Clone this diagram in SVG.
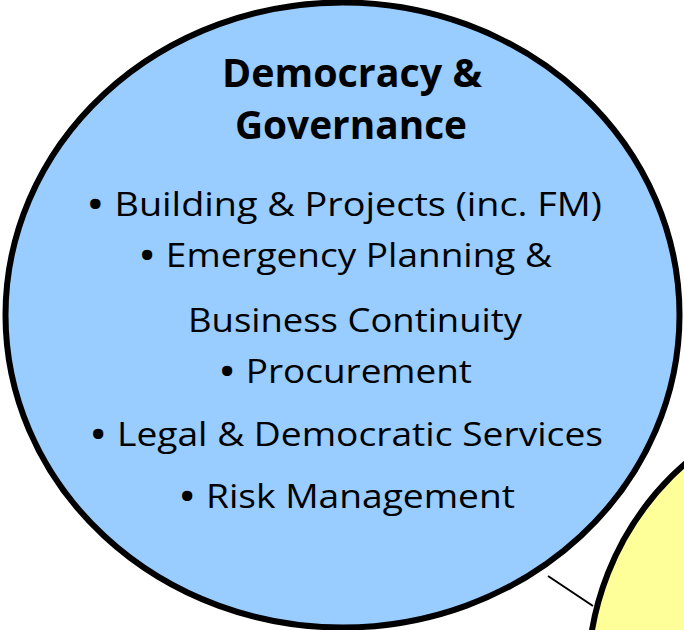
<svg xmlns="http://www.w3.org/2000/svg" width="684" height="630" viewBox="0 0 684 630">
  <style>
    .blob { stroke: #000; stroke-width: 6; }
    .blue { fill: #99CCFF; }
    .yellow { fill: #FFFF99; }
    .link { stroke: #000; stroke-width: 2; fill: none; }
    .title { font-family: "Open Sans", "Liberation Sans", sans-serif; font-weight: bold; font-size: 39px; fill: #000; }
    .item { font-family: "Open Sans", "Liberation Sans", sans-serif; font-size: 33.5px; fill: #000; }
    .dot { font-size: 44px; }
  </style>
  <rect width="684" height="630" fill="#fff"/>

  <g id="connectors">
    <line class="link" x1="548" y1="576" x2="593" y2="606"/>
  </g>

  <g id="node-democracy-governance">
    <ellipse class="blob blue" cx="342.5" cy="315" rx="337" ry="312.5"/>
    <text class="title" x="222" y="87" textLength="260" lengthAdjust="spacingAndGlyphs">Democracy &amp;</text>
    <text class="title" x="235" y="139" textLength="232" lengthAdjust="spacingAndGlyphs">Governance</text>
    <text class="item" x="86" y="216" textLength="516" lengthAdjust="spacingAndGlyphs"><tspan class="dot" dy="3.5">•</tspan><tspan dy="-3.5"> Building &amp; Projects (inc. FM)</tspan></text>
    <text class="item" x="138" y="267" textLength="414" lengthAdjust="spacingAndGlyphs"><tspan class="dot" dy="3.5">•</tspan><tspan dy="-3.5"> Emergency Planning &amp;</tspan></text>
    <text class="item" x="188" y="332" textLength="334" lengthAdjust="spacingAndGlyphs">Business Continuity</text>
    <text class="item" x="218" y="383" textLength="254" lengthAdjust="spacingAndGlyphs"><tspan class="dot" dy="3.5">•</tspan><tspan dy="-3.5"> Procurement</tspan></text>
    <text class="item" x="89" y="446" textLength="514" lengthAdjust="spacingAndGlyphs"><tspan class="dot" dy="3.5">•</tspan><tspan dy="-3.5"> Legal &amp; Democratic Services</tspan></text>
    <text class="item" x="178" y="508" textLength="337" lengthAdjust="spacingAndGlyphs"><tspan class="dot" dy="3.5">•</tspan><tspan dy="-3.5"> Risk Management</tspan></text>
  </g>

  <g id="node-yellow">
    <circle class="blob yellow" cx="873" cy="678" r="285"/>
  </g>
</svg>
